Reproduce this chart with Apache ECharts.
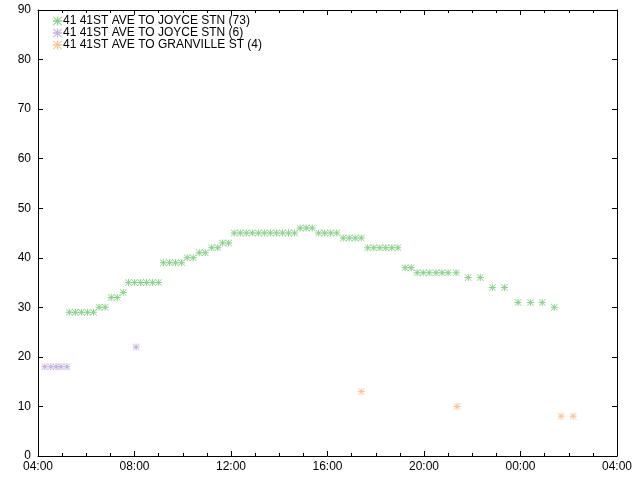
<!DOCTYPE html>
<html>
<head>
<meta charset="utf-8">
<script src="https://cdn.jsdelivr.net/npm/echarts@6/dist/echarts.min.js"></script>
<style>html,body{margin:0;padding:0;background:#fff;}#c{width:640px;height:480px;}</style>
</head>
<body>
<div id="c"></div>
<script>
const seriesNames = ['41 41ST AVE TO JOYCE STN (73)', '41 41ST AVE TO JOYCE STN (6)', '41 41ST AVE TO GRANVILLE ST (4)'];
const greenTimes = ['05:18','05:33','05:48','06:03','06:18','06:32','06:47','07:02','07:17','07:32',
  '07:45','08:00','08:15','08:30','08:45','09:00','09:12','09:27','09:42','09:57',
  '10:11','10:26','10:41','10:56','11:12','11:27','11:39','11:54',
  '12:08','12:23','12:38','12:53','13:08','13:23','13:38','13:53','14:08','14:23','14:38',
  '14:52','15:07','15:22','15:38','15:53','16:08','16:23',
  '16:39','16:54','17:09','17:24','17:40','17:55','18:10','18:25','18:40','18:55',
  '19:13','19:28','19:43','19:58','20:13','20:30','20:45','21:00','21:20',
  '21:50','22:20','22:50','23:20','23:54','00:25','00:54','01:24'];
const greenValues = [29,29,29,29,29,30,30,32,32,33,
  35,35,35,35,35,35,39,39,39,39,
  40,40,41,41,42,42,43,43,
  45,45,45,45,45,45,45,45,45,45,45,
  46,46,46,45,45,45,45,
  44,44,44,44,42,42,42,42,42,42,
  38,38,37,37,37,37,37,37,37,
  36,36,34,34,31,31,31,30];
const purpleTimes = ['04:17','04:32','04:45','04:57','05:12','08:04'];
const purpleValues = [18,18,18,18,18,22];
const orangeTimes = ['17:24','21:22','01:41','02:11'];
const orangeValues = [13,10,8,8];
const xTickLabels = ['04:00','08:00','12:00','16:00','20:00','00:00','04:00'];

function toHours(s){ const p=s.split(':'); let h=+p[0]+(+p[1])/60; if(h<4) h+=24; return h; }
function pairs(ts, vs){ return ts.map((t,i)=>[toHours(t), vs[i]]); }

const star = 'path://M0 6H14V8H0ZM6 0H8V14H6ZM0 1L1 0L14 13L13 14ZM13 0L14 1L1 14L0 13Z';
const colors = ['#72c472','#b49fd4','#f9b57a'];
const font = 'Liberation Sans, Arial, sans-serif';

const chart = echarts.init(document.getElementById('c'));
const xBase = {type:'value', min:4, max:28, interval:4,
  axisLine:{show:true, onZero:false, lineStyle:{color:'#000', width:1}},
  axisTick:{show:true, inside:true, length:5, lineStyle:{color:'#000'}},
  minorTick:{show:true, splitNumber:4, length:3, lineStyle:{color:'#000'}},
  splitLine:{show:false}};
const yBase = {type:'value', min:0, max:90, interval:10,
  axisLine:{show:true, onZero:false, lineStyle:{color:'#000', width:1}},
  axisTick:{show:true, inside:true, length:5, lineStyle:{color:'#000'}},
  splitLine:{show:false}};
chart.setOption({
  animation:false,
  backgroundColor:'#fff',
  grid:{left:38, right:23, top:10, bottom:24},
  legend:{orient:'vertical', left:48, top:10, itemGap:0, itemWidth:9, itemHeight:12,
    textStyle:{color:'#000', fontSize:12, fontFamily:font, padding:[0,0,0,-4]},
    data:seriesNames.map((n,i)=>({name:n, icon:star, itemStyle:{color:colors[i]}}))},
  xAxis:[
    Object.assign({}, xBase, {position:'bottom',
      axisLabel:{show:true, color:'#000', fontSize:12, fontFamily:font, margin:5,
        formatter:(v)=>xTickLabels[Math.round((v-4)/4)]}}),
    Object.assign({}, xBase, {position:'top', axisLabel:{show:false}})
  ],
  yAxis:[
    Object.assign({}, yBase, {position:'left',
      axisLabel:{show:true, color:'#000', fontSize:12, fontFamily:font, margin:7}}),
    Object.assign({}, yBase, {position:'right', axisLabel:{show:false}})
  ],
  series:[
    {name:seriesNames[0], type:'scatter', symbol:star, symbolSize:7, itemStyle:{color:colors[0]}, data:pairs(greenTimes, greenValues)},
    {name:seriesNames[1], type:'scatter', symbol:star, symbolSize:7, itemStyle:{color:colors[1]}, data:pairs(purpleTimes, purpleValues)},
    {name:seriesNames[2], type:'scatter', symbol:star, symbolSize:7, itemStyle:{color:colors[2]}, data:pairs(orangeTimes, orangeValues)}
  ]
});
</script>
</body>
</html>
